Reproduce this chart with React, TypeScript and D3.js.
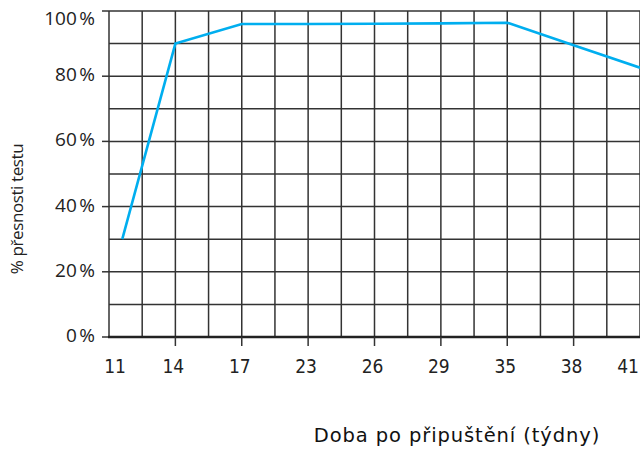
import { useMemo } from 'react';
import * as d3 from 'd3';

// x tick labels (weeks after mating) and where the measured points sit on the category axis
const weekLabels = ['11', '14', '17', '23', '26', '29', '35', '38', '41'];
const pointPos = [0.2, 1, 2, 3, 4, 5, 6, 7, 8];
const accuracy = [30, 90, 96, 96, 96.1, 96.2, 96.4, 89.5, 82.6];
const yTicks = [0, 20, 40, 60, 80, 100];

const W = 640;
const H = 451;
const left = 109;
const right = 640;
const top = 11;
const bottom = 337;

export default function App() {
  const x = useMemo(() => d3.scaleLinear().domain([0, weekLabels.length - 1]).range([left, right]), []);
  const y = useMemo(() => d3.scaleLinear().domain([0, 100]).range([bottom, top]), []);

  const line = d3
    .line<number>()
    .x((_, i) => x(pointPos[i]))
    .y((d) => y(d));

  const vGrid = d3.range(0, weekLabels.length - 0.5, 0.5);
  const hGrid = d3.range(10, 101, 10);

  return (
    <svg
      width={W}
      height={H}
      viewBox={`0 0 ${W} ${H}`}
      style={{ position: 'fixed', left: 0, top: 0, background: '#fff' }}
    >
      {/* grid */}
      <g stroke="#333" strokeWidth={1.5}>
        {vGrid.map((v) => (
          <line key={'v' + v} x1={x(v)} x2={x(v)} y1={top} y2={bottom} />
        ))}
        {hGrid.map((v) => (
          <line key={'h' + v} x1={left} x2={right} y1={y(v)} y2={y(v)} />
        ))}
      </g>

      {/* y axis ticks + labels */}
      <g>
        {yTicks.map((t) => (
          <g key={t}>
            <line x1={left - 7} x2={left} y1={y(t)} y2={y(t)} stroke="#333" strokeWidth={1.5} />
            <text
              x={95}
              y={t === 100 ? y(t) + 9 : y(t)}
              textAnchor="end"
              dominantBaseline="middle"
              fontFamily="'Open Sans', sans-serif"
              fontSize={19}
              fill="#222"
            >
              {t}
              {'\u202F%'}
            </text>
          </g>
        ))}
      </g>

      {/* x axis */}
      <line x1={left - 1} x2={right} y1={bottom} y2={bottom} stroke="#222" strokeWidth={2.5} />
      {weekLabels.map((w, i) => (
        <g key={w}>
          {i > 0 && i < weekLabels.length - 1 && (
            <line x1={x(i)} x2={x(i)} y1={bottom} y2={bottom + 9} stroke="#333" strokeWidth={1.5} />
          )}
          <text
            x={x(i) + (i === 0 ? 6 : i === weekLabels.length - 1 ? -12 : -2)}
            y={373}
            textAnchor="middle"
            fontFamily="'DejaVu Sans Condensed', 'DejaVu Sans', sans-serif"
            fontSize={19}
            fill="#222"
          >
            {w}
          </text>
        </g>
      ))}

      {/* data line */}
      <path d={line(accuracy) ?? ''} fill="none" stroke="#00aeef" strokeWidth={2.6} strokeLinejoin="miter" />

      {/* axis titles */}
      <text
        transform="translate(23,209) rotate(-90)"
        textAnchor="middle"
        fontFamily="'Open Sans', sans-serif"
        fontSize={17}
        letterSpacing={-0.4}
        fill="#222"
      >
        % přesnosti testu
      </text>
      <text
        x={457}
        y={442}
        textAnchor="middle"
        fontFamily="'DejaVu Sans', sans-serif"
        fontSize={19.5}
        letterSpacing={0.9}
        fill="#111"
      >
        Doba po připuštění (týdny)
      </text>
    </svg>
  );
}
